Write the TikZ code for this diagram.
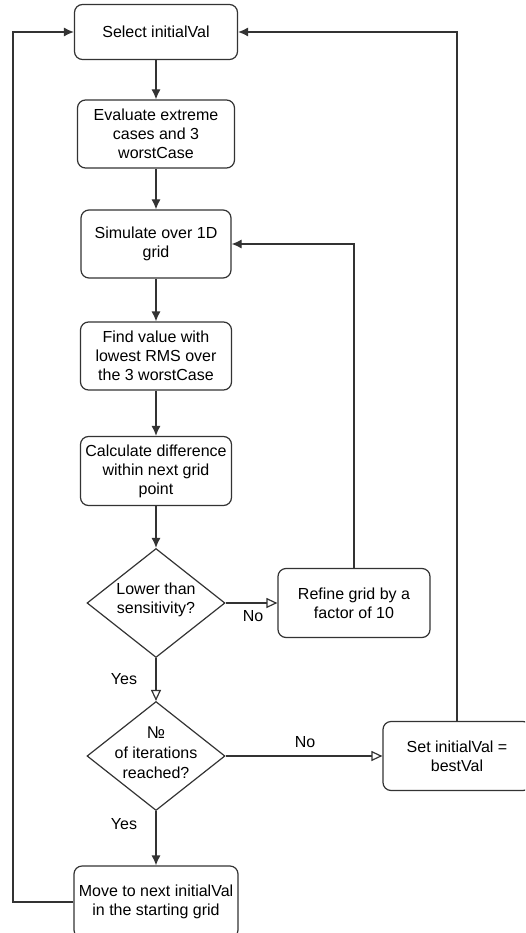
\documentclass[tikz,border=0pt]{standalone}
\usepackage{fontspec}
\setmainfont{Liberation Sans}
\usetikzlibrary{shapes.geometric,arrows.meta}
\definecolor{edge}{HTML}{333333}
\tikzset{box/.style={draw=edge, line width=1.2pt, rounded corners=8pt, align=center, inner sep=0pt, font=\fontsize{16}{19}\selectfont}}
\tikzset{decision/.style={draw=edge, line width=1.2pt, diamond, inner sep=0pt, minimum width=138pt, minimum height=109pt}}
\tikzset{flow/.style={draw=edge, line width=1.2pt, -{Latex[length=10pt,width=9pt]}}}
\tikzset{flowopen/.style={draw=edge, line width=1.2pt, -{Triangle[open,length=11pt,width=10pt]}}}
\tikzset{lbl/.style={align=center, font=\fontsize{16}{19}\selectfont}}

\begin{document}
\begin{tikzpicture}[x=1pt, y=-1pt]
    \clip (0,0) rectangle (525,933);
    \node[box, minimum width=163pt, minimum height=55pt] (sel) at (156,32) {Select initialVal};
    \node[box, minimum width=157pt, minimum height=68pt] (eval) at (156,134) {Evaluate extreme\\cases and 3\\worstCase};
    \node[box, minimum width=150pt, minimum height=68pt] (sim) at (156,244) {Simulate over 1D\\grid};
    \node[box, minimum width=151pt, minimum height=68pt] (find) at (156,356) {Find value with\\lowest RMS over\\the 3 worstCase};
    \node[box, minimum width=151pt, minimum height=69pt] (calc) at (156,471) {Calculate difference\\within next grid\\point};
    \node[decision] (sens) at (156,603) {};
    \node[lbl] (senstext) at (156,600) {Lower than\\sensitivity?};
    \node[box, minimum width=152pt, minimum height=69pt] (refine) at (354,603) {Refine grid by a\\factor of 10};
    \node[decision] (iter) at (156,756) {};
    \node[lbl, font=\fontsize{16}{20}\selectfont] (itertext) at (156,753) {{\fontsize{17}{18}\selectfont №}\\of iterations\\reached?};
    \node[box, minimum width=148pt, minimum height=69pt] (setval) at (457,756) {Set initialVal =\\bestVal};
    \node[box, minimum width=164pt, minimum height=72pt] (move) at (156,902) {Move to next initialVal\\in the starting grid};
    \coordinate (lft) at (13,0);

    \draw[flow] (sel) -- (eval);
    \draw[flow] (eval) -- (sim);
    \draw[flow] (sim) -- (find);
    \draw[flow] (find) -- (calc);
    \draw[flow] (calc) -- (sens);
    \draw[flowopen] (sens) -- (refine);
    \draw[flow] (refine.north) |- (sim.east);
    \draw[flowopen] (sens) -- (iter);
    \draw[flowopen] (iter) -- (setval);
    \draw[flow] (setval.north) |- (sel.east);
    \draw[flow] (iter) -- (move);
    \draw[flow] (move.west) -- (move.west -| lft) |- (sel.west);

    \node[lbl] (no1) at (253,616) {No};
    \node[lbl] (yes1) at (124,679) {Yes};
    \node[lbl] (no2) at (305,742) {No};
    \node[lbl] (yes2) at (124,824) {Yes};
\end{tikzpicture}
\end{document}
